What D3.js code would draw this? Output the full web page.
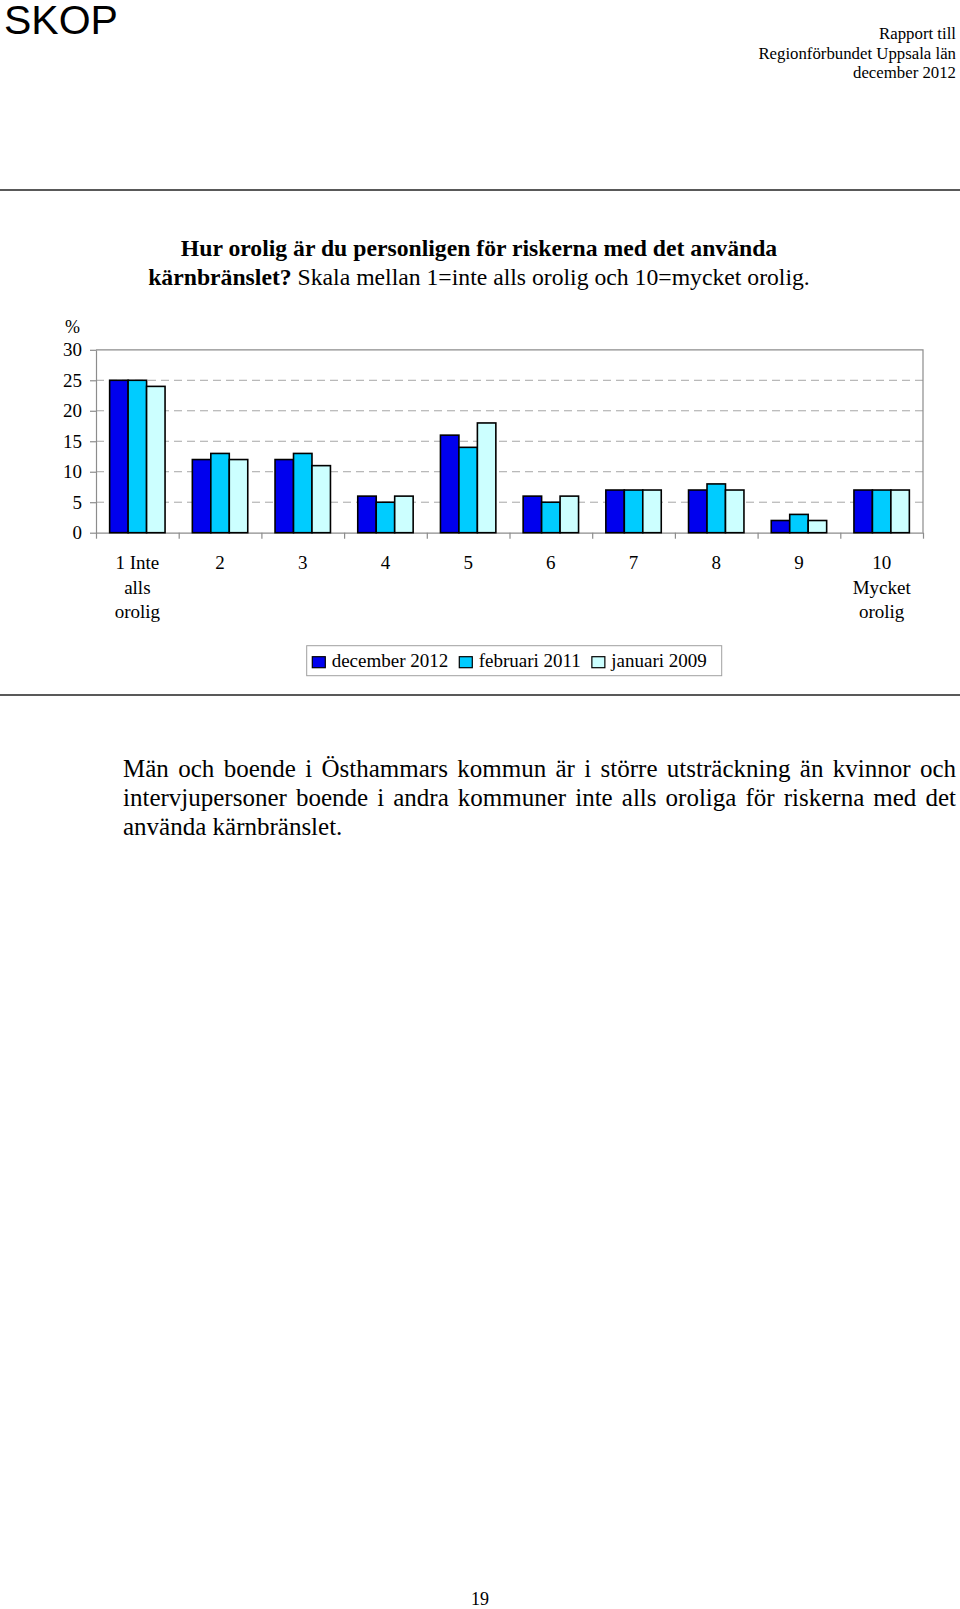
<!DOCTYPE html>
<html>
<head>
<meta charset="utf-8">
<script src="https://cdn.jsdelivr.net/npm/d3@7"></script>
<style>
  html, body { margin: 0; padding: 0; background: #fff; }
  svg { display: block; }
  text { font-family: "Liberation Serif", "Times New Roman", serif; fill: #000; }
</style>
</head>
<body>
<svg id="page" width="960" height="1609"></svg>
<script>
// data
var categories = ["1", "2", "3", "4", "5", "6", "7", "8", "9", "10"];
var categoryLabels = [["1 Inte", "alls", "orolig"], ["2"], ["3"], ["4"], ["5"], ["6"], ["7"], ["8"], ["9"], ["10", "Mycket", "orolig"]];
var seriesNames = ["december 2012", "februari 2011", "januari 2009"];
var dec2012 = [25, 12, 12, 6, 16, 6, 7, 7, 2, 7];
var feb2011 = [25, 13, 13, 5, 14, 5, 7, 8, 3, 7];
var jan2009 = [24, 12, 11, 6, 18, 6, 7, 7, 2, 7];
var yTicks = [0, 5, 10, 15, 20, 25, 30];

var colors = ["#0000ee", "#00ccff", "#ccffff"];

function drawPage() {
  var svg = d3.select('#page');

  // page header
  svg.append('text')
    .attr('x', 4).attr('y', 34)
    .style('font-family', '"Liberation Sans", Arial, sans-serif')
    .style('font-size', '41px')
    .text('SKOP');

  var headerLines = ["Rapport till", "Regionförbundet Uppsala län", "december 2012"];
  headerLines.forEach(function(s, i) {
    svg.append('text')
      .attr('x', 956).attr('y', 39 + i * 19.5)
      .attr('text-anchor', 'end')
      .style('font-size', '16.8px')
      .text(s);
  });

  function rule(yy) {
    svg.append('line')
      .attr('x1', 0).attr('x2', 960)
      .attr('y1', yy).attr('y2', yy)
      .attr('stroke', '#222').attr('stroke-width', 1.5);
  }
  rule(190);
  rule(695);

  // title
  var title = svg.append('g').style('font-size', '23.7px');
  title.append('text')
    .attr('x', 479).attr('y', 256)
    .attr('text-anchor', 'middle')
    .style('font-weight', 'bold')
    .text('Hur orolig är du personligen för riskerna med det använda');
  var t2 = title.append('text')
    .attr('x', 479).attr('y', 285)
    .attr('text-anchor', 'middle');
  t2.append('tspan').style('font-weight', 'bold').text('kärnbränslet?');
  t2.append('tspan').text(' Skala mellan 1=inte alls orolig och 10=mycket orolig.');

  // chart
  var plotLeft = 96, plotRight = 923, plotTop = 349.8, plotBottom = 532.7;

  var x0 = d3.scaleBand().domain(categories).range([plotLeft, plotRight])
    .paddingInner(0.33).paddingOuter(0.165);
  var x1 = d3.scaleBand().domain(seriesNames).range([0, x0.bandwidth()]);
  var y = d3.scaleLinear().domain([0, 30]).range([plotBottom, plotTop]);
  var xEdge = d3.scaleLinear().domain([0, categories.length]).range([plotLeft, plotRight]);

  var chart = svg.append('g').style('font-size', '19px');

  // dashed gridlines
  chart.append('g').selectAll('line')
    .data(yTicks.filter(function(d) { return d > 0 && d < 30; }))
    .enter().append('line')
    .attr('x1', plotLeft).attr('x2', plotRight)
    .attr('y1', function(d) { return y(d); })
    .attr('y2', function(d) { return y(d); })
    .attr('stroke', '#a6a6a6')
    .attr('stroke-width', 1)
    .attr('stroke-dasharray', '8,5');

  // frame top and right
  chart.append('path')
    .attr('d', 'M' + plotLeft + ',' + y(30) + 'H' + plotRight + 'V' + y(0))
    .attr('fill', 'none').attr('stroke', '#8c8c8c').attr('stroke-width', 1.2);

  var yAxis = chart.append('g')
    .attr('transform', 'translate(' + plotLeft + ',0)')
    .call(d3.axisLeft(y).tickValues(yTicks).tickSize(6).tickSizeOuter(0).tickPadding(8));
  yAxis.selectAll('path, line').attr('stroke', '#8c8c8c').attr('stroke-width', 1.2);
  yAxis.selectAll('text')
    .style('font-family', '"Liberation Serif", "Times New Roman", serif')
    .style('font-size', '19px').attr('fill', '#000');

  var xAxis = chart.append('g')
    .attr('transform', 'translate(0,' + plotBottom + ')')
    .call(d3.axisBottom(xEdge).tickValues(d3.range(0, categories.length + 1))
      .tickFormat('').tickSize(6).tickSizeOuter(0));
  xAxis.selectAll('path, line').attr('stroke', '#8c8c8c').attr('stroke-width', 1.2);

  chart.append('text')
    .attr('x', 80).attr('y', 333)
    .attr('text-anchor', 'end')
    .style('font-size', '18px')
    .text('%');

  // bars
  var rows = categories.map(function(c, i) {
    return { cat: c, vals: [dec2012[i], feb2011[i], jan2009[i]] };
  });

  var groups = chart.append('g').selectAll('g')
    .data(rows)
    .enter().append('g')
    .attr('transform', function(d) { return 'translate(' + x0(d.cat) + ',0)'; });

  groups.selectAll('rect')
    .data(function(d) {
      return d.vals.map(function(v, j) { return { name: seriesNames[j], value: v, j: j }; });
    })
    .enter().append('rect')
    .attr('x', function(d) { return x1(d.name); })
    .attr('y', function(d) { return y(d.value); })
    .attr('width', x1.bandwidth())
    .attr('height', function(d) { return y(0) - y(d.value); })
    .attr('fill', function(d) { return colors[d.j]; })
    .attr('stroke', '#000')
    .attr('stroke-width', 1.6);

  // category labels
  var catText = chart.append('g').selectAll('text')
    .data(categories)
    .enter().append('text')
    .attr('text-anchor', 'middle')
    .attr('transform', function(d) { return 'translate(' + (x0(d) + x0.bandwidth() / 2) + ',569)'; });
  catText.selectAll('tspan')
    .data(function(d, i) { return categoryLabels[i]; })
    .enter().append('tspan')
    .attr('x', 0)
    .attr('y', function(d, i) { return i * 24.7; })
    .text(function(d) { return d; });

  // legend
  var legend = svg.append('g').style('font-size', '19px');
  legend.append('rect')
    .attr('x', 306.7).attr('y', 645.7)
    .attr('width', 415).attr('height', 30)
    .attr('fill', '#fff').attr('stroke', '#a0a0a0').attr('stroke-width', 1);

  var lx = 312.3;
  seriesNames.forEach(function(name, i) {
    legend.append('rect')
      .attr('x', lx).attr('y', 656.7)
      .attr('width', 13).attr('height', 11)
      .attr('fill', colors[i]).attr('stroke', '#000').attr('stroke-width', 1.2);
    var t = legend.append('text')
      .attr('x', lx + 19.4).attr('y', 667)
      .text(name);
    lx = lx + 19.4 + t.node().getComputedTextLength() + 11;
  });

  // paragraph, justified
  var paraLines = [
    "Män och boende i Östhammars kommun är i större utsträckning än kvinnor och",
    "intervjupersoner boende i andra kommuner inte alls oroliga för riskerna med det",
    "använda kärnbränslet."
  ];
  var paraLeft = 123, paraRight = 956;
  paraLines.forEach(function(s, i) {
    var t = svg.append('text')
      .attr('x', paraLeft).attr('y', 777 + i * 29)
      .style('font-size', '25px')
      .text(s);
    if (i < paraLines.length - 1) {
      var gaps = s.split(' ').length - 1;
      var extra = (paraRight - paraLeft - t.node().getComputedTextLength()) / gaps;
      t.style('word-spacing', extra + 'px');
    }
  });

  // page number
  svg.append('text')
    .attr('x', 480).attr('y', 1605)
    .attr('text-anchor', 'middle')
    .style('font-size', '18px')
    .text('19');
}

drawPage();
</script>
</body>
</html>
